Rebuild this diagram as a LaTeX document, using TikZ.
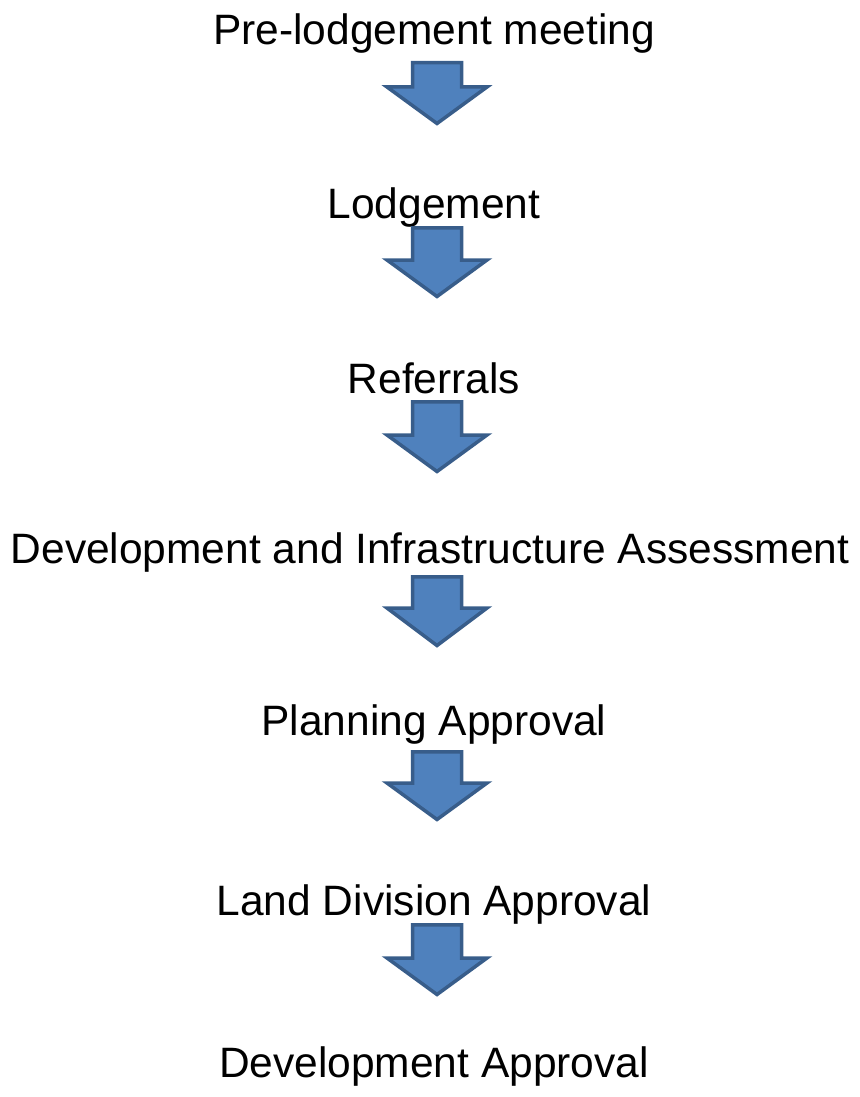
\documentclass[tikz,border=0pt]{standalone}
\usepackage{fontspec}
\setmainfont{Liberation Sans}
\usepackage{tikz}
\definecolor{arrowfill}{HTML}{4F81BD}
\definecolor{arrowline}{HTML}{385D8A}
\def\blockarrow(#1:#2:#3){\draw[line width=3.5pt, color=arrowline, fill=arrowfill] (412.5, #1+1.75) -- (461.5, #1+1.75) -- (461.5, #2) -- (487, #2) -- (437, #3-2.5) -- (387, #2) -- (412.5, #2) -- cycle;}

\begin{document}
\begin{tikzpicture}[x=1pt, y=-1pt]
			%%%%% START %%%%%
			
			\useasboundingbox (0, 0) rectangle (859, 1097);
			\tikzset{steptext/.style={anchor=base, inner sep=0pt, font=\fontsize{42.5}{44}\selectfont}}
			
			\node[steptext] (prelodge) at (434, 45) {Pre-lodgement meeting};
			\blockarrow(61:87:126);
			
			\node[steptext] (lodge) at (434, 218) {Lodgement};
			\blockarrow(226:260:299);
			
			\node[steptext] (referral) at (434, 393) {Referrals};
			\blockarrow(400:435:474);
			
			\node[steptext] (devinfra) at (430, 563) {Development and Infrastructure Assessment};
			\blockarrow(575:608:648);
			
			\node[steptext] (planning) at (434, 735) {Planning Approval};
			\blockarrow(750:783:822);
			
			\node[steptext] (landdiv) at (434, 915) {Land Division Approval};
			\blockarrow(923:958:997);
			
			\node[steptext] (devappr) at (434, 1077) {Development Approval};
			
			%%%%% END %%%%%
\end{tikzpicture}
\end{document}
